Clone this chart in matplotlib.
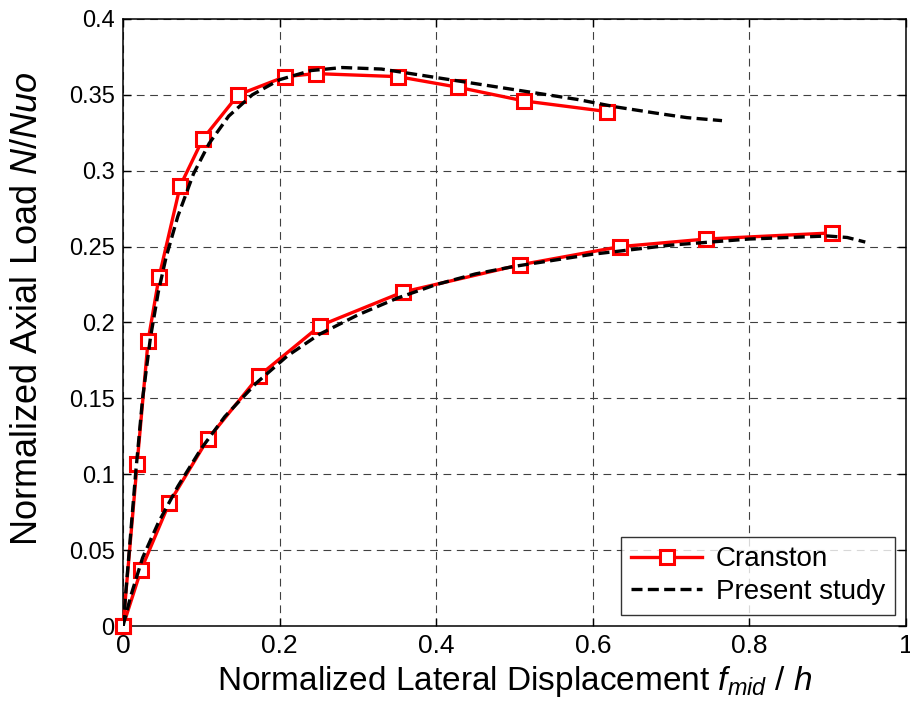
import numpy as np
import matplotlib
matplotlib.use('Agg')
import matplotlib.pyplot as plt
from matplotlib.ticker import FuncFormatter

plt.rcParams['font.family'] = ['Liberation Sans', 'DejaVu Sans']
plt.rcParams['mathtext.fontset'] = 'custom'
plt.rcParams['mathtext.rm'] = 'Liberation Sans'
plt.rcParams['mathtext.it'] = 'Liberation Sans:italic'

# Cranston test data, upper and lower curves
cr_up_x = [0, 0.018, 0.032, 0.046, 0.073, 0.102, 0.147, 0.207, 0.246, 0.351, 0.428, 0.512, 0.618]
cr_up_y = [0, 0.107, 0.188, 0.230, 0.290, 0.321, 0.350, 0.362, 0.364, 0.362, 0.355, 0.346, 0.339]
cr_lo_x = [0, 0.023, 0.059, 0.108, 0.174, 0.252, 0.357, 0.507, 0.635, 0.745, 0.905]
cr_lo_y = [0, 0.037, 0.081, 0.123, 0.165, 0.198, 0.220, 0.238, 0.250, 0.255, 0.259]

# present study, upper and lower curves
ps_up_x = [0, 0.008, 0.016, 0.025, 0.035, 0.045, 0.055, 0.07, 0.09, 0.11, 0.135, 0.165, 0.2,
           0.24, 0.28, 0.33, 0.38, 0.43, 0.48, 0.53, 0.58, 0.63, 0.68, 0.72, 0.765]
ps_up_y = [0, 0.05, 0.10, 0.15, 0.19, 0.22, 0.243, 0.27, 0.298, 0.318, 0.336, 0.35, 0.36,
           0.366, 0.368, 0.367, 0.363, 0.359, 0.355, 0.351, 0.347, 0.342, 0.338, 0.335, 0.333]
ps_lo_x = [0, 0.01, 0.025, 0.045, 0.07, 0.1, 0.13, 0.17, 0.21, 0.25, 0.3, 0.35, 0.4, 0.45,
           0.5, 0.55, 0.6, 0.65, 0.7, 0.75, 0.8, 0.85, 0.9, 0.925, 0.948]
ps_lo_y = [0, 0.02, 0.045, 0.068, 0.092, 0.117, 0.138, 0.16, 0.178, 0.192, 0.205, 0.216, 0.225,
           0.232, 0.237, 0.241, 0.245, 0.248, 0.251, 0.253, 0.255, 0.256, 0.257, 0.256, 0.253]

xticks = [0, 0.2, 0.4, 0.6, 0.8, 1]
yticks = [0, 0.05, 0.1, 0.15, 0.2, 0.25, 0.3, 0.35, 0.4]

fig = plt.figure(figsize=(9.1, 7.13), dpi=100)
ax = fig.add_axes([0.1352, 0.122, 0.8604, 0.8514])

red = dict(color='red', lw=2.4, marker='s', ms=9.5, mew=2.2, mfc='white', mec='red', clip_on=False, zorder=4)
blk = dict(color='black', lw=2.4, linestyle=(0, (3.3, 1.6)), zorder=5)

ax.plot(cr_up_x, cr_up_y, label='Cranston', **red)
ax.plot(ps_up_x, ps_up_y, label='Present study', **blk)
ax.plot(cr_lo_x, cr_lo_y, **red)
ax.plot(ps_lo_x, ps_lo_y, **blk)

ax.set_xlim(0, 1)
ax.set_ylim(0, 0.4)
ax.set_xticks(xticks)
ax.set_yticks(yticks)
fmt = FuncFormatter(lambda v, p: '%g' % v)
ax.xaxis.set_major_formatter(fmt)
ax.yaxis.set_major_formatter(fmt)
ax.tick_params(direction='in', length=6, width=1, top=True, right=True, labelsize=17, pad=6)
for lab in ax.get_xticklabels():
    lab.set_fontsize(19)

for s in ax.spines.values():
    s.set_linewidth(1.1)

ax.grid(True, color='#404040', lw=0.8, linestyle=(0, (7, 5)))
ax.set_axisbelow(True)

ax.set_xlabel(r'Normalized Lateral Displacement $\mathit{f_{mid}}$ / $\mathit{h}$',
              fontsize=24, labelpad=4)
ax.set_ylabel(r'Normalized Axial Load $\mathit{N/Nuo}$', fontsize=26)
ax.yaxis.set_label_coords(-0.0996, 0.522)

leg = ax.legend(loc='lower right', fontsize=20, handlelength=2.55, frameon=True, fancybox=False,
                edgecolor='black', borderpad=0.35, labelspacing=0.25, handletextpad=0.5,
                borderaxespad=0.4)
leg.get_frame().set_linewidth(1.0)

fig.savefig('out.png', dpi=100)
